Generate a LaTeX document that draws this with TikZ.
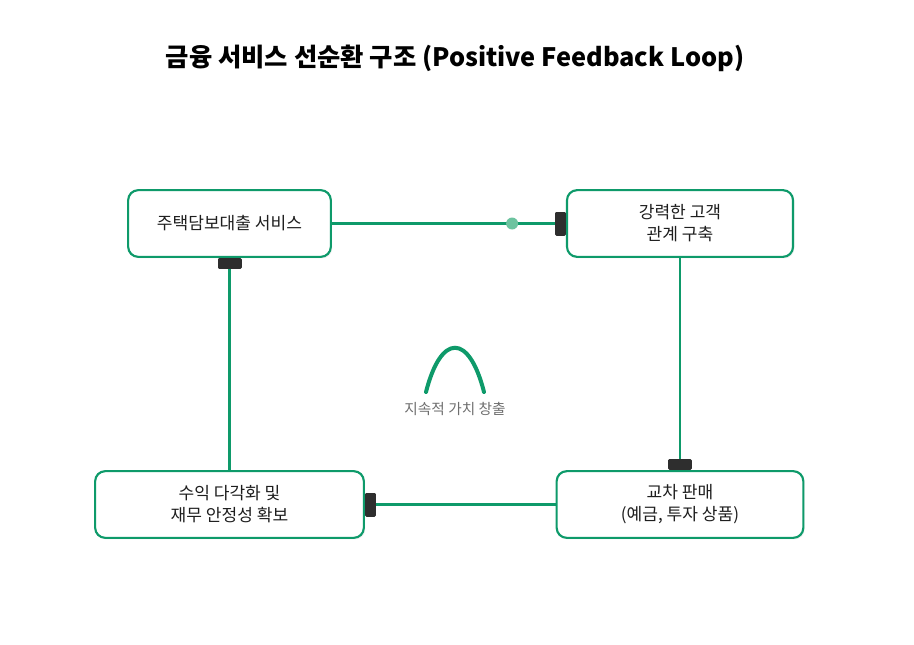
\documentclass[tikz,border=0pt]{standalone}
\usepackage{fontspec}
\setmainfont{Noto Sans CJK KR}
\usetikzlibrary{arrows.meta,shadows}
\definecolor{loopgreen}{HTML}{0E9A6A}
\definecolor{dotgreen}{HTML}{6CC39F}
\definecolor{tipdark}{HTML}{2E2E2E}
\definecolor{textdark}{HTML}{1E1E1E}
\definecolor{notegray}{HTML}{6E6E6E}
\tikzset{
    stagebox/.style={draw=loopgreen, line width=1.6pt, rounded corners=7.5pt,
        fill=white, minimum height=50pt, align=center, text=textdark,
        font=\fontsize{12.8}{16.5}\selectfont,
        drop shadow={opacity=0.12, shadow xshift=1pt, shadow yshift=-1.2pt}},
    flow/.style={draw=loopgreen, line width=2.2pt,
        -{Rectangle[length=8pt, width=18pt, round, color=tipdark]}},
    dotmark/.style={circle, fill=dotgreen, inner sep=0pt, minimum size=9pt}
}
\begin{document}
\begin{tikzpicture}[x=0.75pt, y=-0.75pt]
    \useasboundingbox (0,0) rectangle (914,644);

    % 1. 제목
    \node[font=\bfseries\fontsize{19}{23}\selectfont, text=black] (title) at (455,58)
        {금융 서비스 선순환 구조 (Positive Feedback Loop)};

    % 2. 네 단계 상자
    \node[stagebox, minimum width=152pt] (loan) at (229.5,223.5) {주택담보대출 서비스};
    \node[stagebox, minimum width=169.5pt] (bond) at (680,223.5) {강력한 고객\\관계 구축};
    \node[stagebox, minimum width=185pt] (cross) at (680,504.5) {교차 판매\\(예금, 투자 상품)};
    \node[stagebox, minimum width=201.5pt] (profit) at (229.5,504.5) {수익 다각화 및\\재무 안정성 확보};

    % 3. 순환 화살표
    \draw[flow] (loan.east) -- node[pos=0.77, dotmark] (pulse) {} (bond.west);
    \draw[flow] (bond.south) -- (cross.north);
    \draw[flow] (cross.west) -- (profit.east);
    \draw[flow] (profit.north) -- (loan.south);

    % 4. 가운데 곡선과 설명
    \coordinate (arcL) at (426,392);
    \coordinate (arcR) at (484,392);
    \draw[loopgreen, line width=3pt, line cap=round]
        (arcL) .. controls (441,333) and (469,333) .. (arcR);
    \node[text=notegray, font=\fontsize{11}{13}\selectfont] (note) at (455,409) {지속적 가치 창출};
\end{tikzpicture}
\end{document}
